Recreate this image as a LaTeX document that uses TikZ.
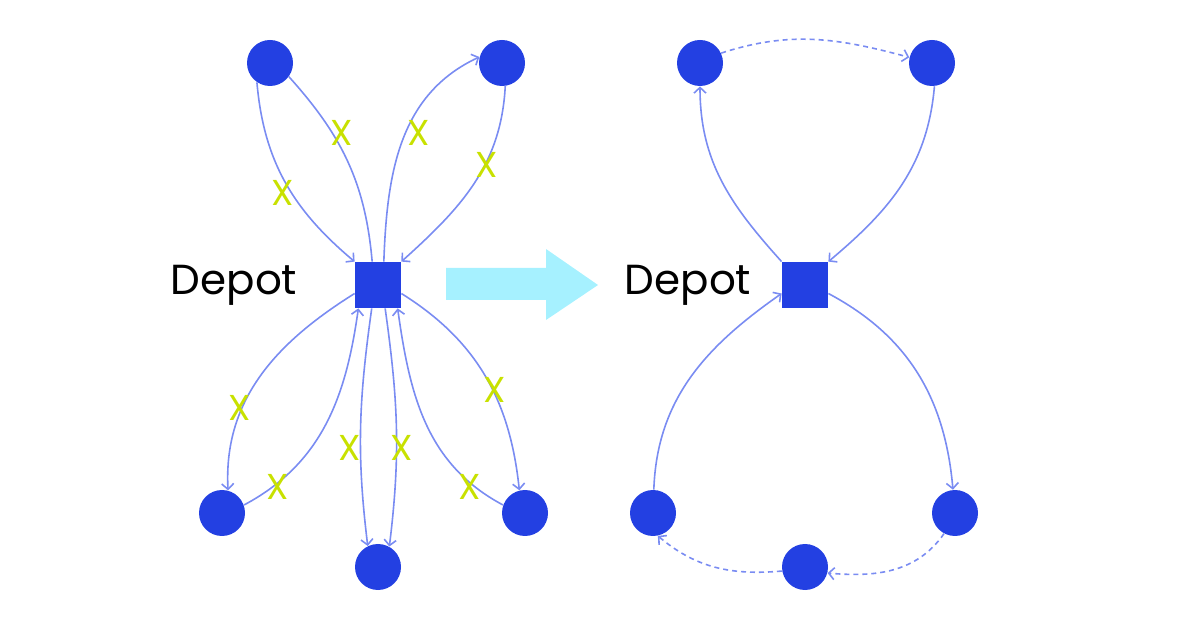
\documentclass[tikz,border=0pt]{standalone}
\usepackage{fontspec}
\setmainfont{Poppins}
\usepackage{tikz}
\usetikzlibrary{arrows.meta, positioning}
\definecolor{nodeblue}{RGB}{35,64,226}
\definecolor{edgeblue}{RGB}{122,140,242}
\definecolor{crossgreen}{RGB}{200,225,0}
\definecolor{arrowcyan}{RGB}{166,241,255}

\begin{document}
\begin{tikzpicture}[x=0.5pt, y=0.5pt, >={Straight Barb[length=2.8pt,width=6pt]},
    stop/.style={circle, fill=nodeblue, minimum size=23pt, inner sep=0pt},
    depot/.style={rectangle, fill=nodeblue, minimum size=23pt, inner sep=0pt},
    depotlabel/.style={inner sep=0pt, font=\fontsize{21}{25}\selectfont},
    route/.style={edgeblue, line width=0.8pt},
    skip/.style={route, dash pattern=on 2.5pt off 2pt},
    cross/.style={crossgreen, inner sep=0pt, font=\fontsize{18}{20}\selectfont}]
    \useasboundingbox (0,0) rectangle (1200,-630);

    % before: every customer served from the depot
    \node[depot] (d1) at (378,-285) {};
    \node[depotlabel, left=28.5pt of d1] (l1) {Depot};
    \node[stop] (a1) at (270,-63) {};
    \node[stop] (a2) at (502,-63) {};
    \node[stop] (b1) at (222,-513) {};
    \node[stop] (b2) at (378,-567) {};
    \node[stop] (b3) at (525,-513) {};

    \draw[route, ->] (a1.236) to[out=-85, in=140] (d1.north west);
    \draw[route] (a1.-36) to[out=-48, in=95] (d1.104);
    \draw[route, ->] (d1.76) to[out=88, in=205] (a2.165);
    \draw[route, ->] (a2.-82) to[out=-93, in=42] (d1.north east);

    \draw[route, ->] (d1.-160) to[out=-148, in=93] (b1.75);
    \draw[route, ->] (b1.20) to[out=28, in=-98] (d1.-130);
    \draw[route, ->] (d1.-105) to[out=-98, in=97] (b2.116);
    \draw[route, ->] (d1.-73) to[out=-82, in=83] (b2.61);
    \draw[route, ->] (b3.160) to[out=152, in=-82] (d1.-50);
    \draw[route, ->] (d1.-20) to[out=-32, in=96] (b3.104);

    \node[cross] (x1) at (283,-193) {X};
    \node[cross] (x2) at (342,-133) {X};
    \node[cross] (x3) at (419,-133) {X};
    \node[cross] (x4) at (487,-165) {X};
    \node[cross] (x5) at (240,-408) {X};
    \node[cross] (x6) at (278,-487) {X};
    \node[cross] (x7) at (350,-448) {X};
    \node[cross] (x8) at (402,-448) {X};
    \node[cross] (x9) at (495,-390) {X};
    \node[cross] (x10) at (470,-487) {X};

    % merge
    \fill[arrowcyan] (446,-268) -- (546,-268) -- (546,-249) -- (598,-285) -- (546,-320) -- (546,-300) -- (446,-300) -- cycle;

    % after: two tours
    \node[depot] (d2) at (805,-285) {};
    \node[depotlabel, left=15pt of d2] (l2) {Depot};
    \node[stop] (c1) at (700,-63) {};
    \node[stop] (c2) at (932,-63) {};
    \node[stop] (c3) at (653,-513) {};
    \node[stop] (c4) at (805,-567) {};
    \node[stop] (c5) at (955,-513) {};

    \draw[route, ->] (d2.north west) to[out=132, in=-90] (c1.-90);
    \draw[skip, ->] (c1.25) to[out=18, in=165] (c2.166);
    \draw[route, ->] (c2.-84) to[out=-95, in=40] (d2.north east);
    \draw[route, ->] (d2.-20) to[out=-28, in=95] (c5.95);
    \draw[skip, ->] (c5.-118) to[out=-125, in=-5] (c4.-15);
    \draw[skip, ->] (c4.190) to[out=185, in=-40] (c3.-78);
    \draw[route, ->] (c3.88) to[out=88, in=-145] (d2.-160);
\end{tikzpicture}
\end{document}
